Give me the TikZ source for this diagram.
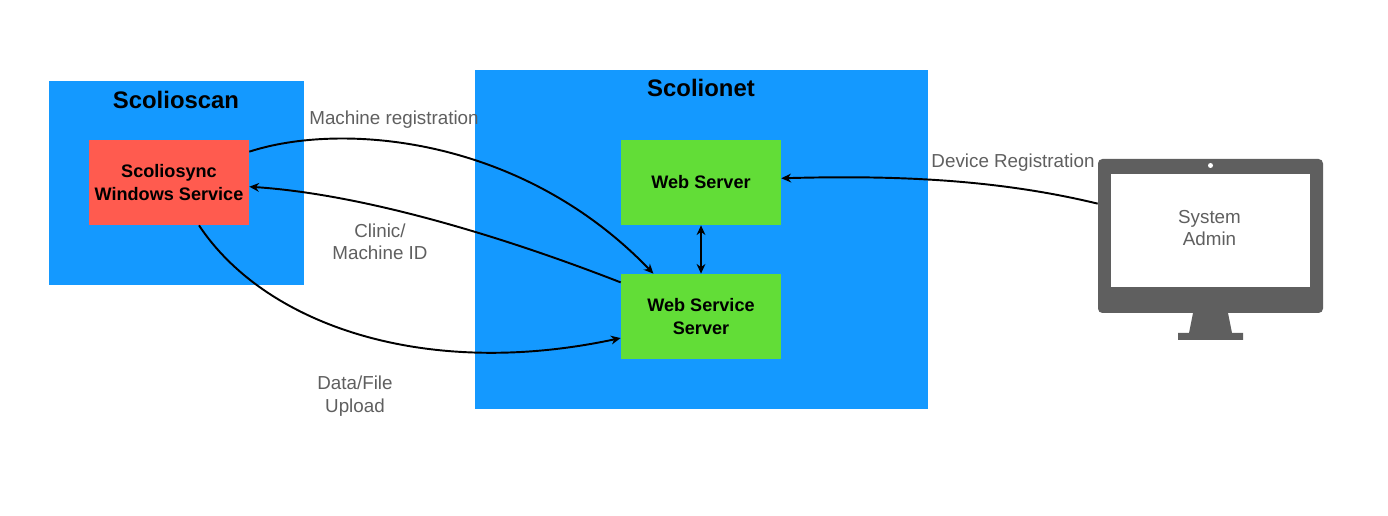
\documentclass[tikz,border=0pt]{standalone}
\usepackage{fontspec}
\setmainfont{Liberation Sans}
\usetikzlibrary{arrows.meta, positioning, calc}
\definecolor{c1}{HTML}{1499FF}
\definecolor{c2}{HTML}{FF5B4F}
\definecolor{c3}{HTML}{62DD37}
\definecolor{labelcolor}{HTML}{5F5F5F}

\begin{document}
\begin{tikzpicture}[
    every node/.style={font=\rmfamily},
    zone/.style={rectangle, fill=c1, inner sep=0pt},
    zonetitle/.style={font=\rmfamily\bfseries\fontsize{13.6}{16}\selectfont, text=black},
    service/.style={rectangle, minimum width=3.20cm, minimum height=1.70cm, inner sep=0pt, align=center,
        font=\rmfamily\bfseries\fontsize{10.3}{13}\selectfont, text=black},
    lab/.style={font=\rmfamily\fontsize{10.7}{12.7}\selectfont, text=labelcolor, align=center},
    link/.style={black, line width=1.1pt, -{Stealth[length=5.5pt, width=5pt]}},
]
\useasboundingbox (0, 0) rectangle (27.76, 10.30);

% ============================================================ the two zones
\node[zone, minimum width=5.10cm, minimum height=4.08cm] (scan) at (3.53, 6.64) {};
\node[zonetitle] (scantitle) at (3.52, 8.30) {Scolioscan};
\node[zone, minimum width=9.06cm, minimum height=6.78cm] (net) at (14.03, 5.51) {};
\node[zonetitle] (nettitle) at (14.02, 8.54) {Scolionet};

% ============================================================ services
\node[service, fill=c2] (sync) at (3.38, 6.65) {Scoliosync\\Windows Service};
\node[service, fill=c3] (web) at (14.02, 6.65) {Web Server};
\node[service, fill=c3] (wss) at (14.02, 3.97) {Web Service\\Server};

% ============================================================ the monitor
\fill[labelcolor] (23.86, 4.04) -- (24.56, 4.04) -- (24.64, 3.64) -- (24.86, 3.64) -- (24.86, 3.50)
    -- (23.56, 3.50) -- (23.56, 3.64) -- (23.78, 3.64) -- cycle;
\node[rectangle, fill=labelcolor, rounded corners=2.5pt, minimum width=4.50cm, minimum height=3.08cm,
    inner sep=0pt] (monitor) at (24.21, 5.58) {};
\node[rectangle, fill=white, minimum width=3.98cm, minimum height=2.27cm, inner sep=0pt] (screen)
    at (24.21, 5.69) {};
\fill[white] (24.21, 6.99) circle (0.05);
\node[lab] (admin) at (24.19, 5.74) {System\\Admin};

% ============================================================ connectors
\draw[link] (sync.21.5) .. controls (6.80, 7.86) and (10.40, 7.60) .. (wss.138.5);
\draw[link] (wss.157.3) .. controls (10.50, 5.40) and (7.50, 6.40) .. (sync.-3.2);
\draw[link] (sync.-55.7) .. controls (5.30, 3.80) and (8.50, 2.70) .. (wss.195);
\draw[link] (monitor.164.6) .. controls (20.00, 6.70) and (18.00, 6.80) .. (web.3.9);
\draw[link, {Stealth[length=5.5pt, width=5pt]}-{Stealth[length=5.5pt, width=5pt]}] (web) -- (wss);

% ============================================================ labels
\node[lab] (machinereg) at (7.88, 7.90) {Machine registration};
\node[lab] (clinicid) at (7.60, 5.46) {Clinic/\\Machine ID};
\node[lab] (upload) at (7.10, 2.38) {Data/File\\Upload};
\node[lab] (devicereg) at (20.26, 7.04) {Device Registration};

\end{tikzpicture}
\end{document}
